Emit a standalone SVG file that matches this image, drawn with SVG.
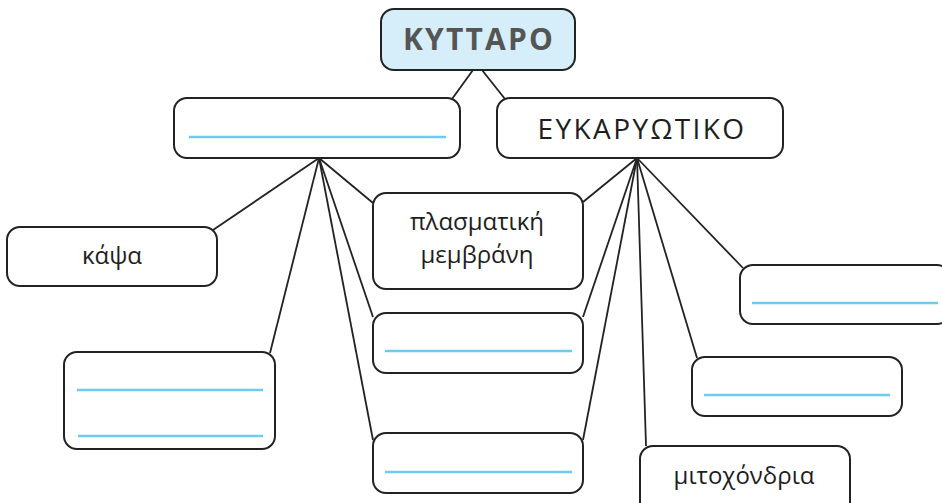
<svg xmlns="http://www.w3.org/2000/svg" width="942" height="503" viewBox="0 0 942 503">
<style>
.box{fill:#fff;stroke:#222;stroke-width:2}
.root{fill:#d5eef9;stroke:#222;stroke-width:2}
.blank{stroke:#6cccef;stroke-width:2.5}
.c{stroke:#222;stroke-width:1.8;fill:none}
text{font-family:"Open Sans","Noto Sans","DejaVu Sans",sans-serif;fill:#1e1e1e;text-anchor:middle}
.t{font-size:24px}
</style>
<rect width="942" height="503" fill="#fff"/>
<g id="connectors">
<line class="c" x1="473" y1="70" x2="452" y2="99"/>
<line class="c" x1="482" y1="70" x2="505" y2="99"/>
<line class="c" x1="319" y1="158" x2="213" y2="230"/>
<line class="c" x1="319" y1="158" x2="270" y2="353"/>
<line class="c" x1="319" y1="158" x2="373" y2="203"/>
<line class="c" x1="319" y1="158" x2="373" y2="317"/>
<line class="c" x1="319" y1="158" x2="373" y2="440"/>
<line class="c" x1="637" y1="158" x2="583" y2="202"/>
<line class="c" x1="637" y1="158" x2="583" y2="317"/>
<line class="c" x1="637" y1="158" x2="583" y2="440"/>
<line class="c" x1="637" y1="158" x2="646" y2="446"/>
<line class="c" x1="637" y1="158" x2="697" y2="358"/>
<line class="c" x1="637" y1="158" x2="743" y2="268"/>
</g>
<g id="kyttaro">
<rect class="root" x="381" y="9" width="194" height="61" rx="13"/>
<text x="479" y="50" font-size="30" font-weight="bold" letter-spacing="2.2" style="fill:#555">ΚΥΤΤΑΡΟ</text>
</g>
<g id="prokaryotiko">
<rect class="box" x="174" y="98" width="286" height="60" rx="13"/>
<line class="blank" x1="189" y1="137" x2="446" y2="137"/>
</g>
<g id="eukaryotiko">
<rect class="box" x="497" y="98" width="286" height="60" rx="13"/>
<text x="642" y="139" font-size="28" letter-spacing="2.4">ΕΥΚΑΡΥΩΤΙΚΟ</text>
</g>
<g id="kapsa">
<rect class="box" x="7" y="227" width="210" height="59" rx="13"/>
<text class="t" x="112" y="264">κάψα</text>
</g>
<g id="left-blank">
<rect class="box" x="64" y="352" width="211" height="97" rx="13"/>
<line class="blank" x1="77" y1="390" x2="263" y2="390"/>
<line class="blank" x1="78" y1="436" x2="263" y2="436"/>
</g>
<g id="plasmatiki">
<rect class="box" x="373" y="193" width="210" height="96" rx="13"/>
<text class="t" x="477" y="230">πλασματική</text>
<text class="t" x="477" y="263">μεμβράνη</text>
</g>
<g id="mid-blank1">
<rect class="box" x="373" y="313" width="210" height="60" rx="13"/>
<line class="blank" x1="385" y1="351" x2="572" y2="351"/>
</g>
<g id="mid-blank2">
<rect class="box" x="373" y="433" width="210" height="60" rx="13"/>
<line class="blank" x1="385" y1="472" x2="572" y2="472"/>
</g>
<g id="right-blank1">
<rect class="box" x="740" y="265" width="210" height="59" rx="13"/>
<line class="blank" x1="752" y1="303" x2="938" y2="303"/>
</g>
<g id="right-blank2">
<rect class="box" x="692" y="357" width="210" height="59" rx="13"/>
<line class="blank" x1="704" y1="395" x2="890" y2="395"/>
</g>
<g id="mitochondria">
<rect class="box" x="640" y="446" width="210" height="70" rx="13"/>
<text class="t" x="744" y="484">μιτοχόνδρια</text>
</g>
</svg>
